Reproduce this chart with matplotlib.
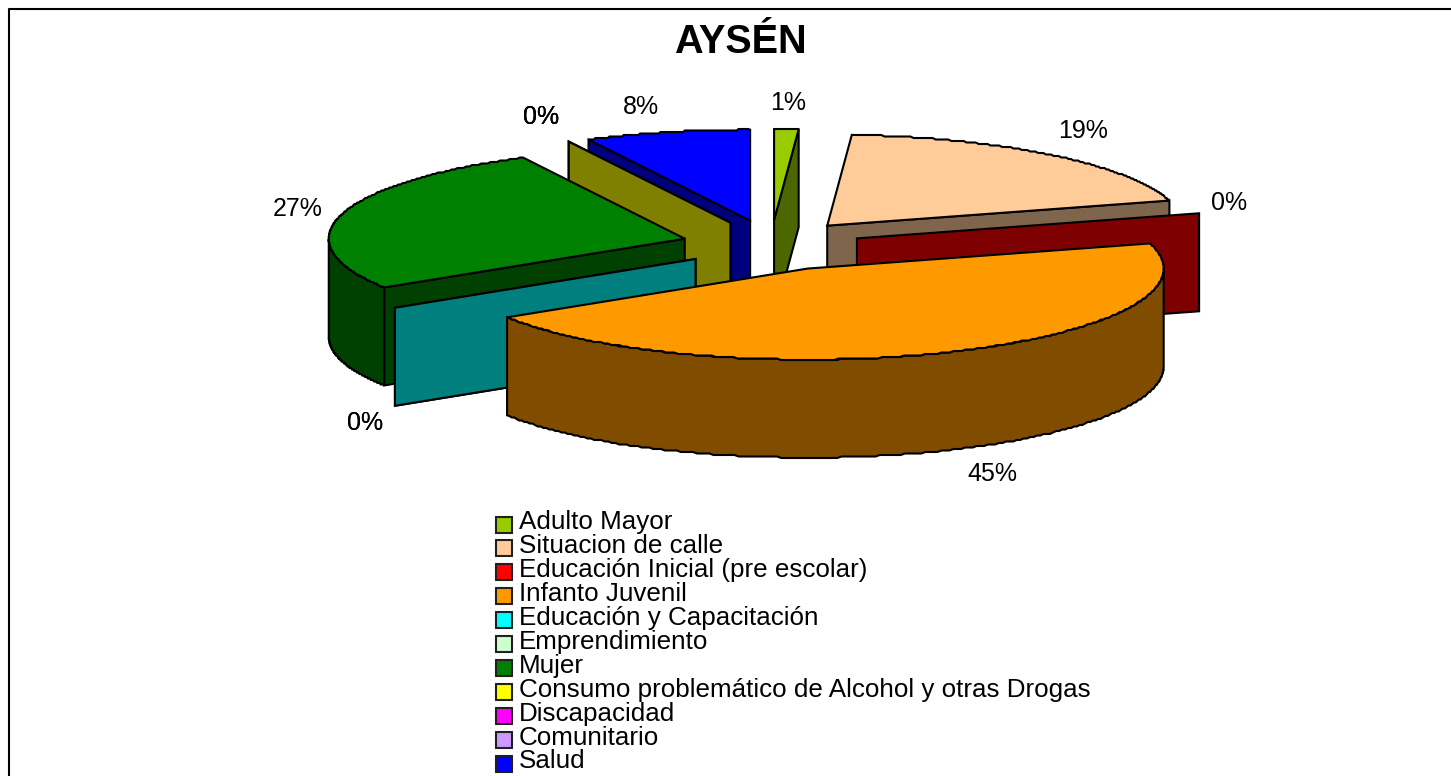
import numpy as np
import matplotlib
matplotlib.use('Agg')
import matplotlib.pyplot as plt
from matplotlib.patches import Polygon, Rectangle

plt.rcParams['font.family'] = ['Liberation Sans', 'DejaVu Sans']

# datos
categorias = ['Adulto Mayor', 'Situacion de calle', 'Educación Inicial (pre escolar)', 'Infanto Juvenil',
              'Educación y Capacitación', 'Emprendimiento', 'Mujer',
              'Consumo problemático de Alcohol y otras Drogas', 'Discapacidad', 'Comunitario', 'Salud']
valores = [1.1, 19.45, 0, 45.45, 0, 0, 26.5, 0, 0, 0, 7.5]
etiquetas = ['1%', '19%', '0%', '45%', '0%', '0%', '27%', '0%', '0%', '0%', '8%']
colores = ['#99cc00', '#ffcc99', '#ff0000', '#ff9900', '#00ffff', '#ccffcc', '#008000',
           '#ffff00', '#ff00ff', '#cc99ff', '#0000ff']
oscuros = ['#4c6600', '#7f654c', '#7f0000', '#7f4c00', '#007f7f', '#667f66', '#004000',
           '#7f7f00', '#7f007f', '#664c7f', '#00007f']

# geometria del pastel, en pixeles
cx, cy = 771, 245.4
rx, ry = 356, 91
ex, ey = 89.4, 25.4
prof = 98
orden = [10, 9, 8, 7, 6, 5, 4, 0, 1, 2, 3]
pos_etiquetas = [(788, 103), (1083, 131), (1229, 203), (992, 474), (365, 423), (365, 423),
                 (298, 209), (541, 117), (541, 117), (541, 117), (641, 107)]

fig = plt.figure(figsize=(14.51, 7.76), dpi=100)
ax = fig.add_axes([0, 0, 1, 1])
ax.set_xlim(0, 1451)
ax.set_ylim(776, 0)
ax.axis('off')


def cara(puntos, color, z):
    ax.add_patch(Polygon(puntos, closed=True, facecolor=color, edgecolor='black', linewidth=1.5,
                         joinstyle='miter', zorder=z))


def borde(x, y, t):
    return np.column_stack([x + rx * np.sin(t), y - ry * np.cos(t)])


def arco_dentado(x, y, a, b):
    # el original tiene el arco escalonado, se imita redondeando la y
    pts = borde(x, y, np.linspace(a, b, 60 + int(60 * (b - a))))
    pts[1:-1, 1] = np.round(pts[1:-1, 1] / 1.5) * 1.5
    return pts


limites = 2 * np.pi * np.concatenate([[0], np.cumsum(valores)]) / 100
for z, i in enumerate(orden):
    t0, t1 = limites[i], limites[i + 1]
    medio = (t0 + t1) / 2
    x = cx + ex * np.sin(medio)
    y = cy - ey * np.cos(medio)
    ini = borde(x, y, t0)[0]
    fin = borde(x, y, t1)[0]

    if valores[i] == 0:
        # sector vacio: solo queda la pared
        cara([(x, y), ini, ini + (0, prof), (x, y + prof)], oscuros[i], z)
        continue

    if np.sin(t0) < 0:
        cara([(x, y), ini, ini + (0, prof), (x, y + prof)], oscuros[i], z)
    if np.sin(t1) > 0:
        cara([(x, y), fin, fin + (0, prof), (x, y + prof)], oscuros[i], z)
    # pared exterior, solo la parte que mira al frente
    a, b = max(t0, np.pi / 2), min(t1, 3 * np.pi / 2)
    if a < b:
        arco = arco_dentado(x, y, a, b)
        cara(np.vstack([arco, arco[::-1] + (0, prof)]), oscuros[i], z)
    arco = arco_dentado(x, y, t0, t1)
    cara(np.vstack([[(x, y)], arco]), colores[i], z)

for texto, (px, py) in zip(etiquetas, pos_etiquetas):
    ax.text(px, py, texto, fontsize=18, ha='center', va='center', color='black', zorder=50)

ax.text(740, 42, 'AYSÉN', fontsize=28.5, fontweight='bold', ha='center', va='center')

# leyenda
for i, nombre in enumerate(categorias):
    ax.add_patch(Rectangle((496, 516.5 + 23.95 * i), 16, 16, facecolor=colores[i], edgecolor='#202020',
                           linewidth=1.5, zorder=60))
    ax.text(519, 529 + 23.95 * i, nombre, fontsize=18.7, ha='left', va='baseline', color='black')

# marco
ax.plot([8.5, 8.5, 1451], [776, 8.5, 8.5], color='black', linewidth=1.5, clip_on=False)

fig.savefig('out.png', dpi=100)
